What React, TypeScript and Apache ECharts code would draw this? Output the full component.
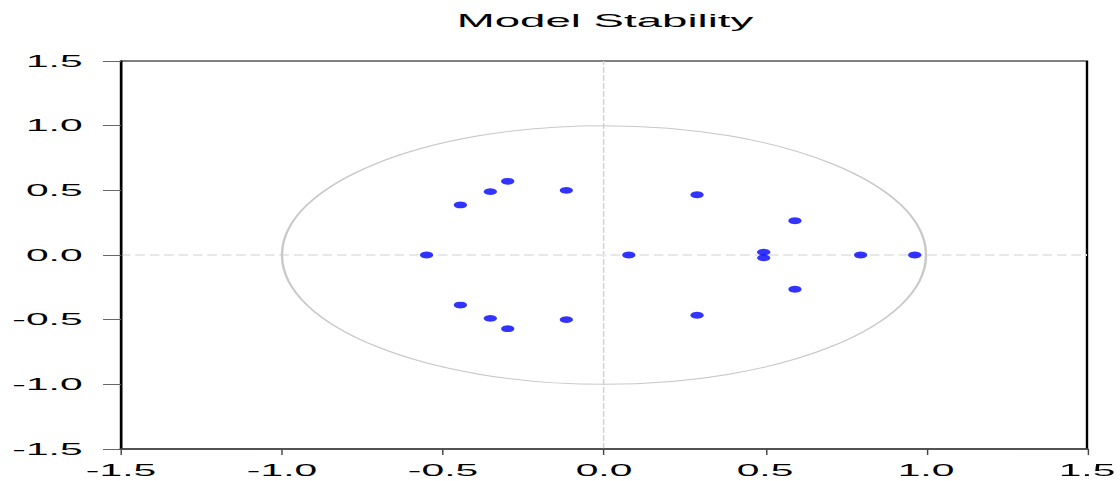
import { useEffect, useRef } from "react";
import * as echarts from "echarts";

// Horizontal stretch applied to the whole chart (the reference is stretched sideways)
const SX = 2.4;
const W = 1120;
const H = 481;
const IW = W / SX;

// Inverse roots: real and imaginary parts
const rootReal = [-0.551, -0.446, -0.446, -0.353, -0.353, -0.299, -0.299, -0.117, -0.117, 0.077, 0.289, 0.289, 0.496, 0.496, 0.593, 0.593, 0.797, 0.965];
const rootImag = [0, 0.387, -0.387, 0.49, -0.49, 0.57, -0.57, 0.5, -0.5, 0, 0.466, -0.466, 0.022, -0.022, 0.265, -0.265, 0, 0];

// Axis range / ticks
const axisMin = -1.5;
const axisMax = 1.5;
const axisStep = 0.5;

const titleText = "Model Stability";
// unit circle: centre x, centre y, radius
const unitCircle = [[0, 0, 1]];

export default function App() {
  const ref = useRef<HTMLDivElement>(null);
  useEffect(() => {
    if (!ref.current) return;
    const chart = echarts.init(ref.current, null, { renderer: "svg", width: IW, height: H });
    const font = '"Liberation Sans", Arial, Helvetica, sans-serif';
    chart.setOption({
      animation: false,
      backgroundColor: "#ffffff",
      graphic: [
        {
          type: "text",
          x: 605 / SX,
          y: 11,
          style: {
            text: titleText,
            textAlign: "center",
            textVerticalAlign: "top",
            fontSize: 19,
            fontFamily: font,
            fill: "#000",
          },
        },
      ],
      grid: {
        left: 121 / SX,
        right: (W - 1087) / SX,
        top: 61,
        bottom: H - 449,
        containLabel: false,
        outerBoundsMode: "none",
        show: true,
        borderColor: "#000",
        borderWidth: 1,
        backgroundColor: "transparent",
      },
      xAxis: {
        type: "value",
        min: axisMin,
        max: axisMax,
        interval: axisStep,
        axisLine: { show: true, onZero: false, lineStyle: { color: "#444", width: 1.5 } },
        axisTick: { show: true, length: 6, lineStyle: { color: "#444", width: 0.6 } },
        splitLine: { show: false },
        axisLabel: {
          formatter: (v: number) => v.toFixed(1),
          fontSize: 17,
          fontFamily: font,
          color: "#000",
          margin: 13,
        },
      },
      yAxis: {
        type: "value",
        min: axisMin,
        max: axisMax,
        interval: axisStep,
        axisLine: { show: true, onZero: false, lineStyle: { color: "#000", width: 1 } },
        axisTick: { show: true, length: 7.5, lineStyle: { color: "#666", width: 1 } },
        splitLine: { show: false },
        axisLabel: {
          formatter: (v: number) => v.toFixed(1),
          fontSize: 17,
          fontFamily: font,
          color: "#000",
          margin: 16,
        },
      },
      series: [
        {
          type: "custom",
          z: 0,
          silent: true,
          data: unitCircle,
          renderItem: (_params: any, api: any) => {
            const c = api.coord([api.value(0), api.value(1)]);
            const s = api.size([api.value(2), api.value(2)]);
            return {
              type: "ellipse",
              shape: { cx: c[0], cy: c[1], rx: s[0], ry: s[1] },
              style: { fill: "none", stroke: "#c8c8c8", lineWidth: 1 },
            };
          },
          markLine: {
            silent: true,
            z: 0,
            symbol: ["none", "none"],
            label: { show: false },
            data: [
              { xAxis: 0, lineStyle: { color: "#d0d0d0", type: [6, 2], width: 0.6 } },
              { yAxis: 0, lineStyle: { color: "#e8e8e8", type: [4, 2], width: 2 } },
            ],
          },
        },
        {
          type: "scatter",
          z: 10,
          symbol: "circle",
          symbolSize: [5.5, 6.8],
          itemStyle: { color: "#0000ff" },
          data: rootReal.map((x, i) => [x, rootImag[i]]),
        },
      ],
    });
    return () => chart.dispose();
  }, []);

  return (
    <div
      style={{
        position: "absolute",
        left: 0,
        top: 0,
        width: W,
        height: H,
        overflow: "hidden",
        background: "#fff",
      }}
    >
      <div
        ref={ref}
        style={{
          width: IW,
          height: H,
          transform: `scaleX(${SX})`,
          transformOrigin: "0 0",
        }}
      />
    </div>
  );
}
